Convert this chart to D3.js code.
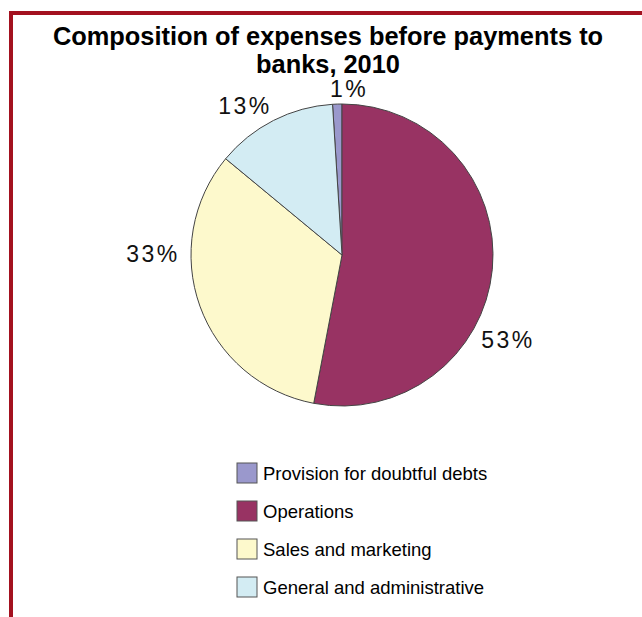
<!DOCTYPE html>
<html><head><meta charset="utf-8">
<script src="https://cdn.jsdelivr.net/npm/d3@7"></script>
<style>body{margin:0;background:#fff}svg{display:block}</style>
</head><body>
<script>
const categories = ["Provision for doubtful debts","Operations","Sales and marketing","General and administrative"];
const values = [1, 53, 33, 13];
const labels = ["1%","53%","33%","13%"];
const colors = ["#9a98cc","#983363","#fdf9cc","#d3ecf3"];
const titleLines = ["Composition of expenses before payments to","banks, 2010"];

const W = 642, H = 617;
const svg = d3.select("body").append("svg").attr("width", W).attr("height", H);

// frame
svg.append("line").attr("x1",11).attr("x2",11).attr("y1",11).attr("y2",H).attr("stroke","#a3111f").attr("stroke-width",4);
svg.append("line").attr("x1",9).attr("x2",W).attr("y1",13).attr("y2",13).attr("stroke","#a3111f").attr("stroke-width",4);

// title
svg.selectAll("text.title").data(titleLines).join("text")
  .attr("class","title").attr("x",328).attr("y",(d,i)=>45+i*28)
  .attr("text-anchor","middle").attr("font-family","Liberation Sans, Arial, sans-serif")
  .attr("font-weight","bold").attr("font-size",25.4).attr("fill","#000").text(d=>d);

const cx = 342, cy = 255, r = 151;
const total = d3.sum(values);
const start = -2*Math.PI*values[0]/total;
const pie = d3.pie().sort(null).value(d=>d).startAngle(start).endAngle(start+2*Math.PI);
const arcs = pie(values);
const arc = d3.arc().innerRadius(0).outerRadius(r);
const g = svg.append("g").attr("transform",`translate(${cx},${cy})`);
g.selectAll("path").data(arcs).join("path")
  .attr("d",arc).attr("fill",(d,i)=>colors[i])
  .attr("stroke","#444").attr("stroke-width",1);

// label offsets relative to pie centre
const labelPos = [[7,-166],[166,85],[-189,-1],[-97,-149]];
g.selectAll("text.lbl").data(arcs).join("text")
  .attr("class","lbl")
  .attr("x",(d,i)=>labelPos[i][0]).attr("y",(d,i)=>labelPos[i][1])
  .attr("text-anchor","middle").attr("dominant-baseline","central")
  .attr("font-family","Liberation Sans, Arial, sans-serif").attr("font-size",23)
  .attr("letter-spacing",2.5).attr("fill","#111").text((d,i)=>labels[i]);

// legend
const lg = svg.append("g").attr("transform","translate(237,463)");
const rows = lg.selectAll("g").data(categories).join("g").attr("transform",(d,i)=>`translate(0,${i*38})`);
rows.append("rect").attr("width",20).attr("height",20).attr("fill",(d,i)=>colors[i]).attr("stroke","#555").attr("stroke-width",1);
rows.append("text").attr("x",26).attr("y",10).attr("dominant-baseline","central")
  .attr("font-family","Liberation Sans, Arial, sans-serif").attr("font-size",18.5).attr("fill","#000").text(d=>d);
</script>
</body></html>
